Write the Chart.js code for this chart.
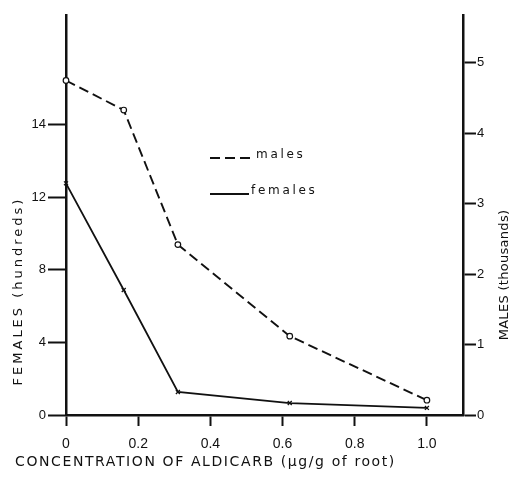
<!DOCTYPE html>
<html>
<head>
<meta charset="utf-8">
<script src="https://cdn.jsdelivr.net/npm/chart.js@4/dist/chart.umd.min.js"></script>
<style>
  html, body { margin: 0; padding: 0; background: #fff; }
  #wrap { width: 520px; height: 482px; position: relative; }
</style>
</head>
<body>
<div id="wrap"><canvas id="c" width="520" height="482"></canvas></div>
<script>
// ---- data ----
const concentrations = [0, 0.16, 0.31, 0.62, 1.0];          // µg/g of root
const males = [4.75, 4.33, 2.42, 1.12, 0.21];               // thousands (right axis)
const females = [12.77, 6.89, 1.27, 0.66, 0.39];            // left axis units

const xTickValues = [0, 0.2, 0.4, 0.6, 0.8, 1.0];
const xTickLabels = ['0', '0.2', '0.4', '0.6', '0.8', '1.0'];
const femaleTickValues = [0, 4, 8, 12, 16];
const femaleTickLabels = ['0', '4', '8', '12', '14'];
const maleTickValues = [0, 1, 2, 3, 4, 5];
const maleTickLabels = ['0', '1', '2', '3', '4', '5'];

const seriesLabels = ['males', 'females'];
const xTitle = 'CONCENTRATION OF ALDICARB (\u03BCg/g of root)';
const leftTitle = 'FEMALES (hundreds)';
const rightTitle = 'MALES (thousands)';

const INK = '#111';
const FONT = '"DejaVu Sans", sans-serif';
const TICKFONT = '"Liberation Sans", Arial, sans-serif';

const annotate = {
  id: 'annotate',
  afterDraw(chart) {
    const ctx = chart.ctx;
    const a = chart.chartArea;
    ctx.save();
    ctx.fillStyle = INK;
    ctx.strokeStyle = INK;
    ctx.textBaseline = 'middle';

    // x axis title
    ctx.font = '14px ' + FONT;
    ctx.letterSpacing = '1.6px';
    ctx.textAlign = 'left';
    ctx.fillText(xTitle, a.left - 51, a.bottom + 47);

    // left axis title
    ctx.save();
    ctx.font = '13px ' + FONT;
    ctx.letterSpacing = '3px';
    ctx.translate(a.left - 47, a.bottom - 124);
    ctx.rotate(-Math.PI / 2);
    ctx.textAlign = 'center';
    ctx.fillText(leftTitle, 0, 0);
    ctx.restore();

    // right axis title
    ctx.save();
    ctx.font = '13px ' + FONT;
    ctx.letterSpacing = '0.3px';
    ctx.translate(a.right + 42, a.bottom - 140);
    ctx.rotate(-Math.PI / 2);
    ctx.textAlign = 'center';
    ctx.fillText(rightTitle, 0, 0);
    ctx.restore();

    // in-plot legend
    const items = [
      { y: a.top + 143, ty: a.top + 140, x0: a.left + 144, x1: a.left + 184, tx: a.left + 190 },
      { y: a.top + 179, ty: a.top + 176, x0: a.left + 144, x1: a.left + 183, tx: a.left + 185 }
    ];
    chart.data.datasets.forEach((ds, i) => {
      const it = items[i];
      ctx.save();
      ctx.lineWidth = ds.borderWidth;
      ctx.setLineDash(ds.borderDash || []);
      ctx.beginPath();
      ctx.moveTo(it.x0, it.y);
      ctx.lineTo(it.x1, it.y);
      ctx.stroke();
      ctx.restore();
      ctx.font = '12px ' + FONT;
      ctx.letterSpacing = '2.7px';
      ctx.textAlign = 'left';
      ctx.fillText(ds.label, it.tx, it.ty);
    });
    ctx.restore();
  }
};

const axisGrid = (len) => ({
  drawOnChartArea: false,
  drawTicks: true,
  tickLength: len,
  tickWidth: 2,
  tickColor: INK
});
const axisBorder = { display: true, color: INK, width: 2.5 };

new Chart(document.getElementById('c'), {
  type: 'line',
  data: {
    datasets: [
      {
        label: seriesLabels[0],
        data: concentrations.map((x, i) => ({ x, y: males[i] })),
        yAxisID: 'y2',
        borderColor: INK,
        borderWidth: 1.9,
        borderDash: [10, 5],
        pointStyle: 'circle',
        pointRadius: 2.8,
        pointBackgroundColor: '#fff',
        pointBorderColor: INK,
        pointBorderWidth: 1.2,
        tension: 0,
        clip: false
      },
      {
        label: seriesLabels[1],
        data: concentrations.map((x, i) => ({ x, y: females[i] })),
        yAxisID: 'y',
        borderColor: INK,
        borderWidth: 1.8,
        pointStyle: 'crossRot',
        pointRadius: 2.8,
        pointBorderColor: INK,
        pointBorderWidth: 1.3,
        tension: 0,
        clip: false
      }
    ]
  },
  options: {
    responsive: false,
    animation: false,
    events: [],
    layout: { padding: { top: 15, left: 0, right: 0, bottom: 0 } },
    plugins: {
      legend: { display: false },
      tooltip: { enabled: false },
      title: { display: false }
    },
    scales: {
      x: {
        type: 'linear',
        position: 'bottom',
        min: 0,
        max: 1.1,
        afterBuildTicks: (s) => { s.ticks = xTickValues.map(v => ({ value: v })); },
        afterFit: (s) => { s.height = 67; },
        ticks: {
          callback: (v, i) => xTickLabels[i],
          color: INK,
          font: { family: TICKFONT, size: 14 },
          padding: 10,
          maxRotation: 0
        },
        grid: axisGrid(11),
        border: axisBorder
      },
      y: {
        type: 'linear',
        position: 'left',
        min: 0,
        max: 22.05,
        afterBuildTicks: (s) => { s.ticks = femaleTickValues.map(v => ({ value: v })); },
        afterFit: (s) => { s.width = 66; },
        ticks: {
          callback: (v, i) => femaleTickLabels[i],
          color: INK,
          font: { family: TICKFONT, size: 13 },
          padding: 2
        },
        grid: axisGrid(18),
        border: axisBorder
      },
      y2: {
        type: 'linear',
        position: 'right',
        min: 0,
        max: 5.68,
        afterBuildTicks: (s) => { s.ticks = maleTickValues.map(v => ({ value: v })); },
        afterFit: (s) => { s.width = 57; },
        ticks: {
          callback: (v, i) => maleTickLabels[i],
          color: INK,
          font: { family: TICKFONT, size: 13 },
          padding: 1
        },
        grid: axisGrid(13),
        border: axisBorder
      }
    }
  },
  plugins: [annotate]
});
</script>
</body>
</html>
